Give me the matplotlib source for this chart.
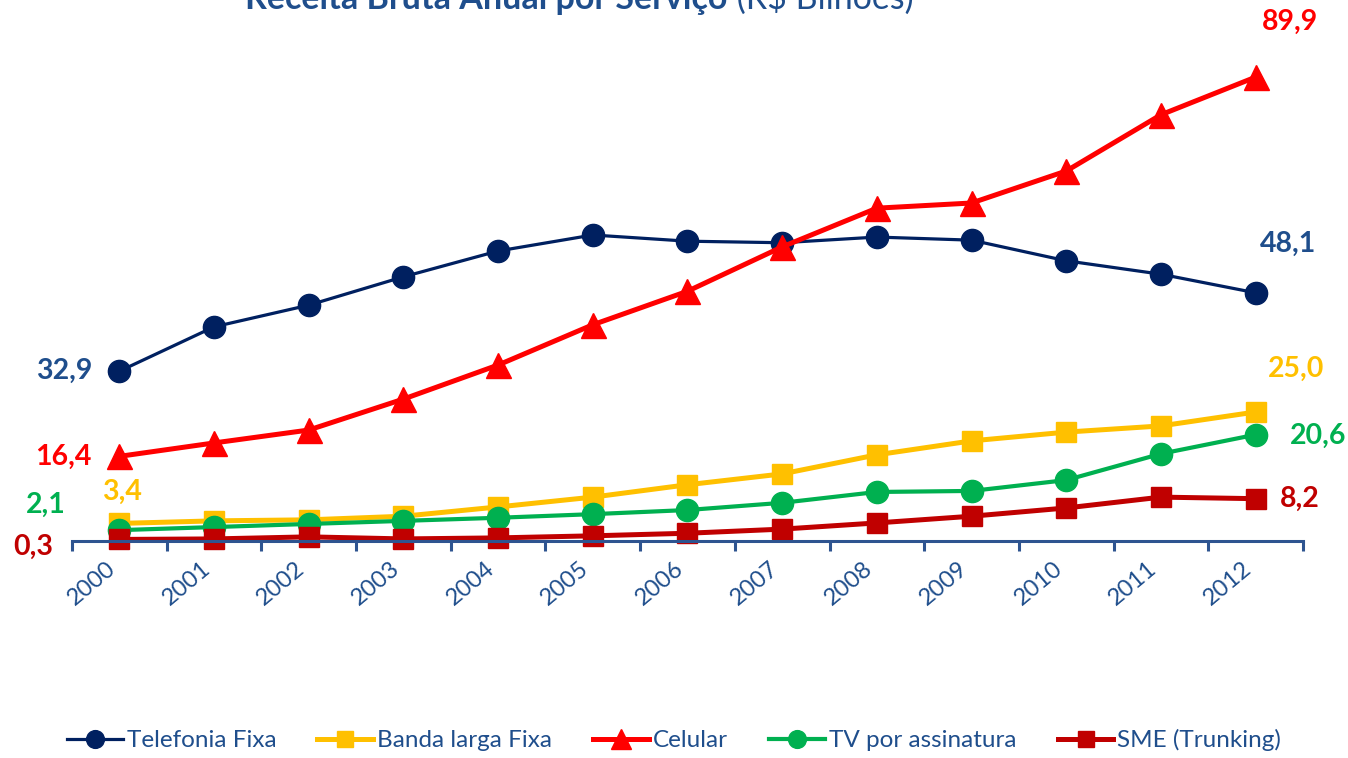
import numpy as np
import matplotlib.pyplot as plt

plt.rcParams['font.family'] = ['Lato', 'DejaVu Sans']

anos = ['2000', '2001', '2002', '2003', '2004', '2005', '2006',
        '2007', '2008', '2009', '2010', '2011', '2012']

telefonia_fixa = [32.9, 41.5, 45.7, 51.2, 56.2, 59.3, 58.1, 57.8, 58.9, 58.3, 54.3, 51.7, 48.1]
banda_larga = [3.4, 3.9, 4.1, 4.8, 6.6, 8.5, 10.9, 13.0, 16.7, 19.4, 21.1, 22.3, 25.0]
celular = [16.4, 19.0, 21.5, 27.5, 34.1, 41.9, 48.4, 57.0, 64.5, 65.5, 71.7, 82.6, 89.9]
tv_assinatura = [2.1, 2.7, 3.3, 3.9, 4.5, 5.2, 6.0, 7.4, 9.5, 9.7, 11.8, 16.9, 20.6]
sme = [0.3, 0.4, 0.8, 0.4, 0.6, 1.0, 1.5, 2.3, 3.5, 4.8, 6.4, 8.5, 8.2]

nomes = ['Telefonia Fixa', 'Banda larga Fixa', 'Celular', 'TV por assinatura', 'SME (Trunking)']
series = [telefonia_fixa, banda_larga, celular, tv_assinatura, sme]

# estilo de cada serie: cor da linha, cor do rotulo, marcador, tamanho, espessura
estilos = [
    ('#002060', '#1F4E8C', 'o', 16, 2.3),
    ('#FFC000', '#FFC000', 's', 14, 3.6),
    ('#FF0000', '#FF0000', '^', 18, 3.6),
    ('#00B050', '#00B050', 'o', 16, 3.0),
    ('#C00000', '#C00000', 's', 14, 3.6),
]

# deslocamento (pontos) dos rotulos do primeiro e do ultimo ano
desloc_ini = [(-40, 0), (2, 23), (-40, 0), (-53, 18), (-62, -5)]
desloc_fim = [(23, 35), (29, 31), (25, 40), (45, -1), (32, 0)]

fig = plt.figure(figsize=(13.48, 7.58), dpi=100)
ax = fig.add_axes([0.0534, 0.2863, 0.9132, 0.6467])

x = np.arange(len(anos))
for serie, nome, est, d0, d1 in zip(series, nomes, estilos, desloc_ini, desloc_fim):
    cor, cor_txt, mk, ms, lw = est
    ax.plot(x, serie, color=cor, marker=mk, markersize=ms, linewidth=lw, label=nome,
            clip_on=False)
    for i, d in ((0, d0), (len(x) - 1, d1)):
        ax.annotate(f'{serie[i]:.1f}'.replace('.', ','), xy=(x[i], serie[i]),
                    xytext=d, textcoords='offset points', ha='center', va='center',
                    fontsize=20.5, fontweight='bold', color=cor_txt, annotation_clip=False)

ax.set_xlim(-0.5, len(anos) - 0.5)
ax.set_ylim(0, 95)
ax.set_yticks([])
for s in ['left', 'right', 'top']:
    ax.spines[s].set_visible(False)
ax.spines['bottom'].set_color('#2E5490')
ax.spines['bottom'].set_linewidth(2.2)

ax.set_xticks(x)
ax.set_xticklabels(anos, rotation=40, ha='right', fontsize=17, color='#1F4E8C')
ax.tick_params(axis='x', which='major', length=0, pad=12)
ax.set_xticks(np.arange(len(anos) + 1) - 0.5, minor=True)
ax.tick_params(axis='x', which='minor', length=7, width=2.2, color='#2E5490', direction='out')

t1 = fig.text(0.182, 0.988, 'Receita Bruta Anual por Serviço', fontsize=24.5,
              fontweight='bold', color='#1F4E8C', ha='left', va='baseline')
ax.annotate(' (R$ Bilhões)', xy=(1, 0), xycoords=t1, fontsize=24.5, color='#1F4E8C',
            ha='left', va='bottom')

leg = fig.legend(loc='lower center', bbox_to_anchor=(0.5, -0.02), ncol=5, frameon=False,
                 fontsize=17.5, handlelength=2.3, handletextpad=0.15, columnspacing=1.7,
                 markerscale=0.8)
for t in leg.get_texts():
    t.set_color('#1F4E8C')

fig.savefig('out.png', dpi=100)
